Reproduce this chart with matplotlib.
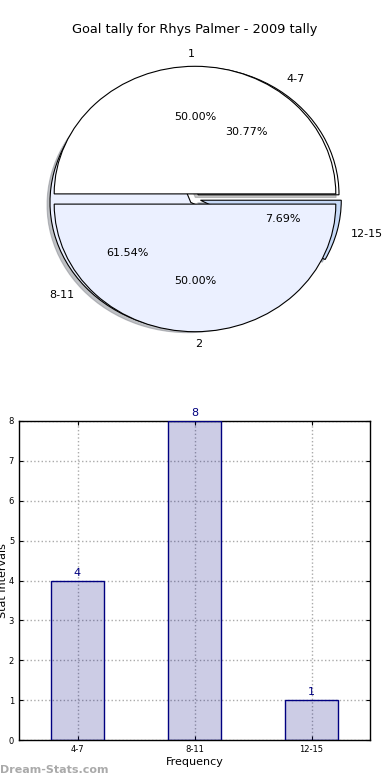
import matplotlib
matplotlib.use("Agg")
import matplotlib.pyplot as plt

title = "Goal tally for Rhys Palmer - 2009 tally"
categories = ["4-7", "8-11", "12-15"]
counts = [4, 8, 1]
half_labels = ["1", "2"]
half_values = [1, 1]

fig = plt.figure(figsize=(3.9, 7.8), dpi=100)

# ---- Pie ----
ax1 = fig.add_axes([19/390, 1-358.5/780, 352/390, 319/780])
ax1.pie(counts, labels=categories, autopct='%1.2f%%', explode=[0.04]*3,
        colors=['white', '#EBF0FF', '#C6D9F7'],
        shadow={'ox': -0.015, 'oy': -0.015, 'shade': 0.45}, startangle=0,
        wedgeprops=dict(edgecolor='black', linewidth=0.8),
        textprops=dict(fontsize=8))
ax1.pie(half_values, labels=half_labels, autopct='%1.2f%%', explode=[0.04]*2,
        colors=['white', '#EBF0FF'], startangle=0,
        wedgeprops=dict(edgecolor='black', linewidth=0.8),
        textprops=dict(fontsize=8))
ax1.set_aspect('auto')
ax1.set_xlim(-1.25, 1.25)
ax1.set_ylim(-1.25, 1.25)
fig.text(0.5, 1-30/780, title, ha='center', va='center', fontsize=9.3)

# ---- Bars ----
ax2 = fig.add_axes([19/390, 1-740/780, 351/390, 319/780])
x = list(range(len(categories)))
ax2.bar(x, counts, width=0.45, color='navy', alpha=0.2, zorder=2)
ax2.bar(x, counts, width=0.45, facecolor='none', edgecolor='navy', linewidth=1, zorder=3)
for xi, v in zip(x, counts):
    ax2.annotate(str(v), (xi, v), xytext=(0, 2), textcoords='offset points',
                 ha='center', va='bottom', color='navy', fontsize=8, annotation_clip=False)
ax2.set_xlim(-0.5, 2.5)
ax2.set_ylim(0, 8)
ax2.set_xticks(x)
ax2.set_xticklabels(categories, fontsize=6)
ax2.set_yticks(range(0, 9))
ax2.tick_params(axis='y', labelsize=6)
ax2.tick_params(direction='in', top=True, right=True, length=3)
ax2.grid(True, linestyle=':', color='#aaaaaa', linewidth=1, zorder=0)
ax2.set_axisbelow(True)
ax2.set_xlabel('Frequency', fontsize=8, labelpad=2)
ax2.set_ylabel('Stat Intervals', fontsize=8)
ax2.yaxis.set_label_coords(-0.031, 0.5)
for s in ax2.spines.values():
    s.set_linewidth(1)

fig.text(0.0, 1-770/780, 'Dream-Stats.com', fontsize=8, fontweight='bold',
         color='#aaaaaa', ha='left', va='center')

fig.savefig('out.png', dpi=100)
